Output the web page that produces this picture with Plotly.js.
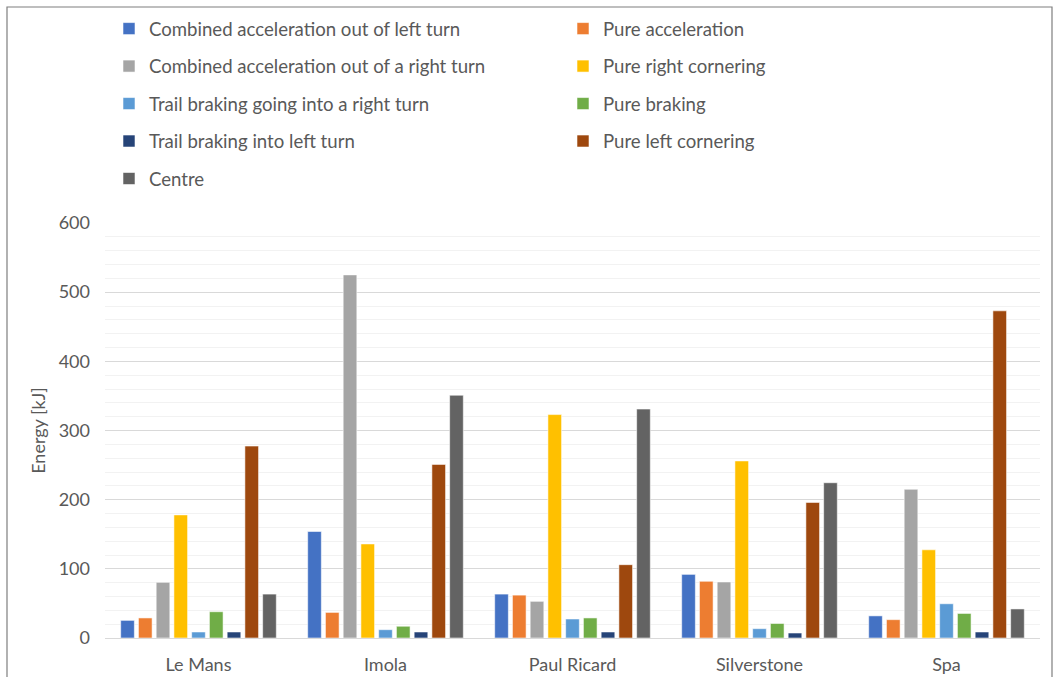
<!DOCTYPE html>
<html>
<head>
<meta charset="utf-8">
<script src="https://cdn.plot.ly/plotly-3.0.1.min.js"></script>
<style>html,body{margin:0;padding:0;background:#fff}#chart{width:1059px;height:677px}</style>
</head>
<body>
<div id="chart"></div>
<script>
// Data (values in kJ)
const tracks = ["Le Mans", "Imola", "Paul Ricard", "Silverstone", "Spa"];
const seriesNames = [
  "Combined acceleration out of left turn",
  "Pure acceleration",
  "Combined acceleration out of a right turn",
  "Pure right cornering",
  "Trail braking going into a right turn",
  "Pure braking",
  "Trail braking into left turn",
  "Pure left cornering",
  "Centre"
];
const combinedAccelLeft  = [25.5, 154, 63.5, 92, 32];
const pureAcceleration   = [29, 37, 62, 82, 26.5];
const combinedAccelRight = [80.5, 525, 53, 81, 215];
const pureRightCornering = [178, 136, 323, 256, 127.5];
const trailBrakingRight  = [8.7, 12, 27.5, 13.5, 49.5];
const pureBraking        = [38, 17, 29, 21, 35.5];
const trailBrakingLeft   = [8.7, 8.7, 8.7, 7.2, 8.7];
const pureLeftCornering  = [277.5, 251, 106, 196, 473];
const centre             = [63.5, 351, 331, 224.5, 42];
const seriesValues = [combinedAccelLeft, pureAcceleration, combinedAccelRight, pureRightCornering,
  trailBrakingRight, pureBraking, trailBrakingLeft, pureLeftCornering, centre];
const colors = ["#4472C4", "#ED7D31", "#A5A5A5", "#FFC000", "#5B9BD5", "#70AD47", "#264478", "#9E480E", "#636363"];

const FONT = "Lato, 'Open Sans', sans-serif";
const TXT = "#595959";

const traces = seriesNames.map((name, i) => ({
  type: "bar",
  name: name,
  x: tracks,
  y: seriesValues[i],
  legendgroup: "g" + i,
  marker: {color: colors[i], line: {color: "rgba(255,255,255,0.55)", width: 1}},
  hoverinfo: "x+y+name"
}));

const layout = {
  width: 1059,
  height: 677,
  paper_bgcolor: "#ffffff",
  plot_bgcolor: "#ffffff",
  font: {family: FONT, color: TXT, size: 18},
  margin: {l: 105, r: 19, t: 223, b: 39, pad: 0},
  barmode: "group",
  bargap: 0.146,
  bargroupgap: 0.23,
  showlegend: true,
  legend: {
    orientation: "h",
    traceorder: "grouped",
    tracegroupgap: 10.3,
    entrywidth: 409,
    entrywidthmode: "pixels",
    xref: "container", yref: "container",
    x: 109 / 1059, xanchor: "left",
    y: 1 - 10 / 677, yanchor: "top",
    font: {family: FONT, size: 18.6, color: TXT},
    bgcolor: "rgba(0,0,0,0)"
  },
  xaxis: {
    type: "category",
    showline: true, linecolor: "#d9d9d9", linewidth: 1,
    showgrid: false, ticks: "",
    tickfont: {family: FONT, size: 18, color: TXT},
    ticklabelstandoff: 10,
    automargin: false
  },
  yaxis: {
    range: [0, 600],
    dtick: 100,
    showline: false, zeroline: false,
    showgrid: true, gridcolor: "#d9d9d9", gridwidth: 1,
    minor: {dtick: 20, showgrid: true, gridcolor: "#f2f2f2", gridwidth: 1},
    ticks: "",
    tickfont: {family: FONT, size: 18, color: TXT},
    ticklabelstandoff: 14,
    title: {text: "Energy [kJ]", font: {family: FONT, size: 18, color: TXT}, standoff: 8},
    automargin: false
  },
  shapes: [{
    type: "rect", xref: "paper", yref: "paper",
    x0: (7 - 105) / 935, x1: (1052 - 105) / 935,
    y0: -0.2, y1: (638 - 7) / 415,
    line: {color: "#7f7f7f", width: 1.2},
    fillcolor: "rgba(0,0,0,0)",
    layer: "below"
  }]
};

Plotly.newPlot("chart", traces, layout, {displayModeBar: false, staticPlot: true});
</script>
</body>
</html>
